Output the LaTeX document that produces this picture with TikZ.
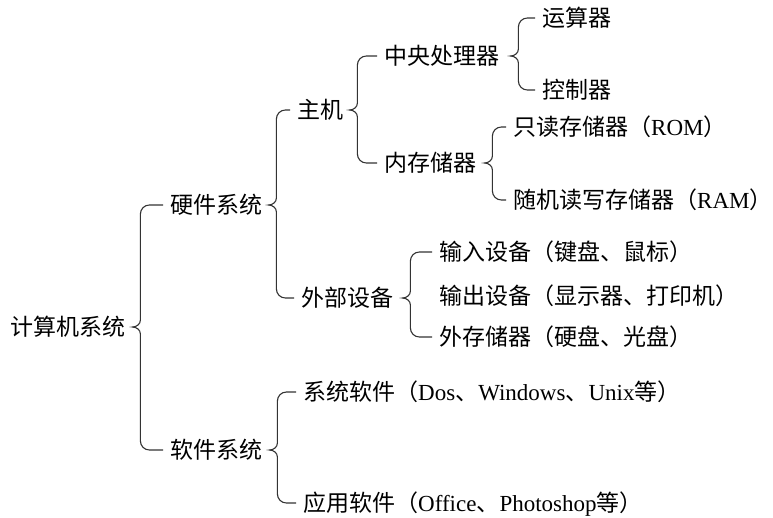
\documentclass[tikz,border=0pt]{standalone}
\usepackage{fontspec}
\setmainfont{Liberation Serif}
\newfontfamily\zhfont{Noto Sans CJK SC}
\newcommand\zh[1]{{\zhfont #1}}
\usetikzlibrary{calc}

\tikzset{
  item/.style={anchor=west,inner sep=0pt,text height=20.2pt,text depth=2.8pt,
    font=\fontsize{23}{28}\selectfont},
  kuoline/.style={draw=black!80,line width=1.1pt}
}

% brace from parent #2 to children #3 (top) and #4 (bottom), #1 = distance of the bar
\newcommand\kuo[4][13]{%
  \draw[kuoline] let \p1=(#2.east), \p2=(#3.west), \p3=(#4.west) in
    (\x2-7pt,\y2) -- (\x1+#1pt+9pt,\y2) to[out=180,in=90] (\x1+#1pt,\y2-9pt)
    -- (\x1+#1pt,\y1+7pt) to[out=-90,in=0] (\x1+#1pt-8pt,\y1)
    to[out=0,in=90] (\x1+#1pt,\y1-7pt)
    -- (\x1+#1pt,\y3+9pt) to[out=-90,in=180] (\x1+#1pt+9pt,\y3) -- (\x3-7pt,\y3);
}

\begin{document}
\begin{tikzpicture}[x=1pt,y=-1pt]
\useasboundingbox (0,0) rectangle (773,517);

\node[item] (root) at (10,327) {\zh{计算机系统}};

\node[item] (hard) at (170,205) {\zh{硬件系统}};
\node[item] (soft) at (170,450) {\zh{软件系统}};

\node[item] (host) at (297,110) {\zh{主机}};
\node[item] (periph) at (301,298) {\zh{外部设备}};

\node[item] (cpu) at (384,56) {\zh{中央处理器}};
\node[item] (mem) at (384,163) {\zh{内存储器}};

\node[item] (alu) at (542,18) {\zh{运算器}};
\node[item] (ctrl) at (542,90) {\zh{控制器}};

\node[item] (rom) at (513,127) {\zh{只读存储器（}ROM\zh{）}};
\node[item] (ram) at (513,200) {\zh{随机读写存储器（}RAM\zh{）}};

\node[item] (inpdev) at (439,252) {\zh{输入设备（键盘、鼠标）}};
\node[item] (outdev) at (439,296) {\zh{输出设备（显示器、打印机）}};
\node[item] (extmem) at (439,337) {\zh{外存储器（硬盘、光盘）}};

\node[item] (syssw) at (303,392) {\zh{系统软件（}Dos\zh{、}Windows\zh{、}Unix\zh{等）}};
\node[item] (appsw) at (303,503) {\zh{应用软件（}Office\zh{、}Photoshop\zh{等）}};

% braces
\kuo[15]{root}{hard}{soft}
\kuo[14]{hard}{host}{periph}
\kuo[15]{soft}{syssw}{appsw}
\kuo[14]{host}{cpu}{mem}
\kuo[19]{cpu}{alu}{ctrl}
\kuo[16]{mem}{rom}{ram}
\kuo[17]{periph}{inpdev}{extmem}
\end{tikzpicture}
\end{document}
